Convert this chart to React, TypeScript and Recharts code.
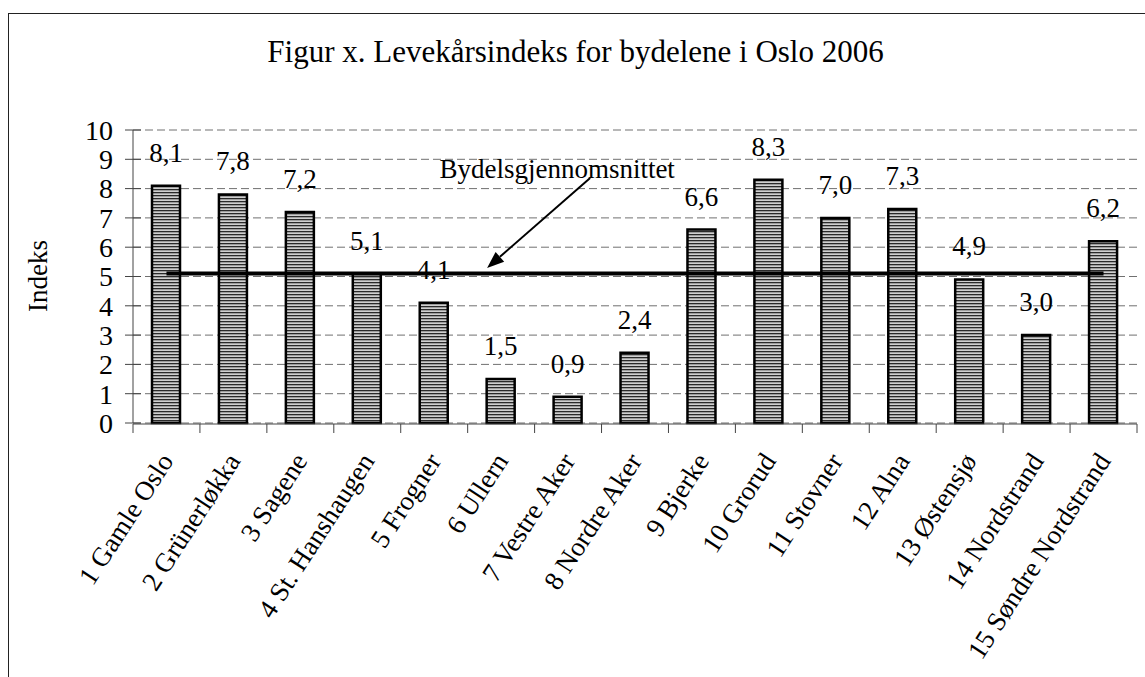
import React from 'react';
import {
  ComposedChart,
  Bar,
  XAxis,
  YAxis,
  CartesianGrid,
  ReferenceLine,
  LabelList,
} from 'recharts';

// Levekårsindeks per bydel, Oslo 2006
const bydeler = [
  '1 Gamle Oslo',
  '2 Grünerløkka',
  '3 Sagene',
  '4 St. Hanshaugen',
  '5 Frogner',
  '6 Ullern',
  '7 Vestre Aker',
  '8 Nordre Aker',
  '9 Bjerke',
  '10 Grorud',
  '11 Stovner',
  '12 Alna',
  '13 Østensjø',
  '14 Nordstrand',
  '15 Søndre Nordstrand',
];
const indeks = [8.1, 7.8, 7.2, 5.1, 4.1, 1.5, 0.9, 2.4, 6.6, 8.3, 7.0, 7.3, 4.9, 3.0, 6.2];
const snitt = 5.1;
const yTicks = [0, 1, 2, 3, 4, 5, 6, 7, 8, 9, 10];
// category borders on a 0..15 helper axis (for the tick marks between bars)
const bandEdges = [0, 1, 2, 3, 4, 5, 6, 7, 8, 9, 10, 11, 12, 13, 14, 15];
// annotation arrow, in helper-axis / index units
const pilFra = { x: 6.83, y: 8.36 };
const pilTil = { x: 5.29, y: 5.29 };

const data = bydeler.map((navn, i) => ({ navn, indeks: indeks[i] }));

const FONT = '"Liberation Serif", "Times New Roman", serif';
const fmt = (v: number) => v.toFixed(1).replace('.', ',');

const YTick = ({ x, y, payload }: any) => (
  <g>
    <line x1={x - 8} x2={x + 8} y1={y} y2={y} stroke="#444" strokeWidth={1} />
    <text x={x - 20} y={y} dy="0.35em" textAnchor="end" fontSize={28} fontFamily={FONT} fill="#000">
      {payload.value}
    </text>
  </g>
);

const XTick = ({ x, y, payload }: any) => (
  <text
    transform={`translate(${x + 8},${y + 38}) rotate(-57)`}
    textAnchor="end"
    fontSize={27}
    fontFamily={FONT}
    fill="#000"
  >
    {payload.value}
  </text>
);

const NoTick = () => <g />;

const VerdiEtikett = ({ x, y, width, value }: any) => (
  <text x={x + width / 2} y={y - 24} textAnchor="middle" fontSize={27} fontFamily={FONT} fill="#000">
    {fmt(value)}
  </text>
);

const Pil = ({ x1, y1, x2, y2 }: any) => {
  const ang = Math.atan2(y2 - y1, x2 - x1);
  const len = 17;
  const half = 6.5;
  const bx = x2 - len * Math.cos(ang);
  const by = y2 - len * Math.sin(ang);
  const px = -Math.sin(ang) * half;
  const py = Math.cos(ang) * half;
  return (
    <g>
      <line x1={x1} y1={y1} x2={bx} y2={by} stroke="#000" strokeWidth={2} />
      <polygon points={`${x2},${y2} ${bx + px},${by + py} ${bx - px},${by - py}`} fill="#000" />
      <text x={x1 - 33} y={y1} textAnchor="middle" fontSize={27} fontFamily={FONT} fill="#000">
        Bydelsgjennomsnittet
      </text>
    </g>
  );
};

export default function App() {
  return (
    <div
      style={{
        position: 'fixed',
        left: 0,
        top: 0,
        width: 1145,
        height: 677,
        overflow: 'hidden',
        background: '#fff',
      }}
    >
      <div
        style={{
          position: 'absolute',
          left: 8,
          top: 13,
          width: 1200,
          height: 700,
          border: '1.5px solid #222',
        }}
      />
      <div style={{ position: 'absolute', left: 0, top: 0 }}>
        <ComposedChart
          width={1145}
          height={677}
          data={data}
          margin={{ top: 130, right: 8, bottom: 252, left: 0 }}
        >
          <defs>
            <pattern id="striper" patternUnits="userSpaceOnUse" width={4} height={3}>
              <rect x={0} y={0} width={4} height={3} fill="#cfcfcf" />
              <rect x={0} y={0} width={4} height={1.3} fill="#2a2a2a" />
            </pattern>
          </defs>
          <CartesianGrid
            xAxisId="cat"
            vertical={false}
            stroke="#707070"
            strokeDasharray="8 4"
          />
          <XAxis
            xAxisId="num"
            type="number"
            dataKey={(d: any) => bydeler.indexOf(d.navn)}
            domain={[0, 15]}
            allowDataOverflow
            ticks={bandEdges}
            interval={0}
            height={1}
            tick={<NoTick />}
            tickSize={9}
            axisLine={{ stroke: '#444' }}
            tickLine={{ stroke: '#444' }}
          />
          <XAxis
            xAxisId="cat"
            dataKey="navn"
            height={1}
            interval={0}
            axisLine={false}
            tickLine={false}
            tickSize={0}
            tickMargin={0}
            tick={<XTick />}
          />
          <YAxis
            width={133}
            domain={[0, 10]}
            ticks={yTicks}
            interval={0}
            tickSize={0}
            tickMargin={0}
            tickLine={false}
            axisLine={{ stroke: '#444' }}
            tick={<YTick />}
          />
          <Bar
            xAxisId="cat"
            dataKey="indeks"
            barSize={28}
            fill="url(#striper)"
            stroke="#000"
            strokeWidth={2.5}
            isAnimationActive={false}
          >
            <LabelList dataKey="indeks" content={<VerdiEtikett />} />
          </Bar>
          <ReferenceLine
            xAxisId="cat"
            segment={[
              { x: bydeler[0], y: snitt },
              { x: bydeler[bydeler.length - 1], y: snitt },
            ]}
            stroke="#000"
            strokeWidth={4}
          />
          <ReferenceLine
            xAxisId="num"
            segment={[pilFra, pilTil]}
            shape={<Pil />}
          />
        </ComposedChart>
      </div>
      <svg
        width={1145}
        height={677}
        style={{ position: 'absolute', left: 0, top: 0, pointerEvents: 'none' }}
      >
        <text x={575.5} y={62} textAnchor="middle" fontSize={31} fontFamily={FONT} fill="#000">
          Figur x. Levekårsindeks for bydelene i Oslo 2006
        </text>
        <text
          transform="translate(47,276) rotate(-90)"
          textAnchor="middle"
          fontSize={27}
          fontFamily={FONT}
          fill="#000"
        >
          Indeks
        </text>
      </svg>
    </div>
  );
}
